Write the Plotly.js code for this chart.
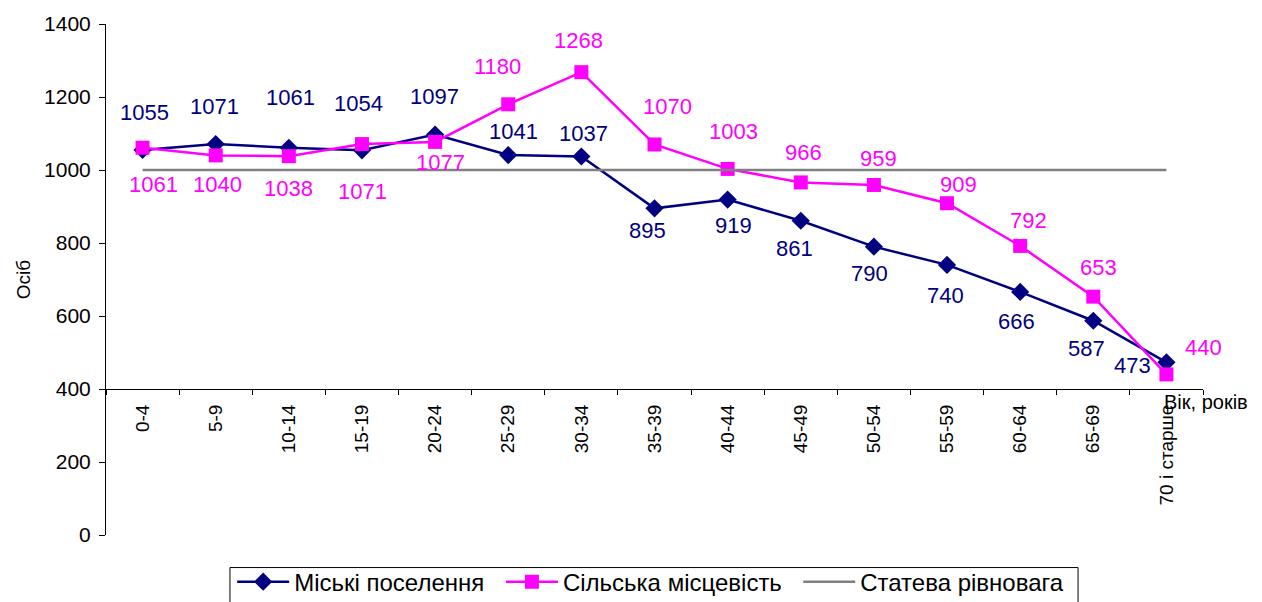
<!DOCTYPE html>
<html>
<head>
<meta charset="utf-8">
<script src="https://cdn.plot.ly/plotly-3.0.1.min.js"></script>
<style>
html,body{margin:0;padding:0;background:#fff;}
#chart{width:1262px;height:602px;}
</style>
</head>
<body>
<div id="chart"></div>
<script>
// ---- data ----
var categories = ["0-4","5-9","10-14","15-19","20-24","25-29","30-34","35-39","40-44","45-49","50-54","55-59","60-64","65-69","70 і старше"];
var urbanValues = [1055,1071,1061,1054,1097,1041,1037,895,919,861,790,740,666,587,473];
var ruralValues = [1061,1040,1038,1071,1077,1180,1268,1070,1003,966,959,909,792,653,440];
var balanceValues = [1000,1000,1000,1000,1000,1000,1000,1000,1000,1000,1000,1000,1000,1000,1000];
var seriesNames = ["Міські поселення","Сільська місцевість","Статева рівновага"];
var yTickValues = [0,200,400,600,800,1000,1200,1400];
var yAxisTitle = "Осіб";
var xAxisTitle = "Вік, років";

// ---- label placement (pixel offsets, style only) ----
var urbanShiftX = [2,-1,2,-3,-1,5,2,-7,6,-6,-4,-2,-4,-7,-34];
var urbanShiftY = [37,38,50,47,38,24,23,-22,-26,-28,-27,-31,-30,-28,-3];
var ruralShiftX = [11,2,0,1,5,-11,-3,13,6,3,5,11,8,5,37];
var ruralShiftY = [-37,-29,-32,-47,-21,38,32,38,37,30,26,19,25,29,27];

var FONT = "Liberation Sans, Arial, sans-serif";
var NAVY = "#000080", MAGENTA = "#FF00FF", GRAY = "#808080";

var traces = [
  {x: categories, y: urbanValues, name: seriesNames[0], type: "scatter", mode: "lines+markers", legend: "legend",
   line: {color: NAVY, width: 2.5}, marker: {symbol: "diamond", size: 14, color: NAVY}, hoverinfo: "skip"},
  {x: categories, y: ruralValues, name: seriesNames[1], type: "scatter", mode: "lines+markers", legend: "legend2",
   line: {color: MAGENTA, width: 2.5}, marker: {symbol: "square", size: 14, color: MAGENTA}, hoverinfo: "skip"},
  {x: categories, y: balanceValues, name: seriesNames[2], type: "scatter", mode: "lines", legend: "legend3",
   line: {color: GRAY, width: 2.5}, hoverinfo: "skip"}
];

var annotations = [];
categories.forEach(function(c, i){
  annotations.push({x: c, y: urbanValues[i], xref: "x", yref: "y", text: String(urbanValues[i]),
    showarrow: false, xshift: urbanShiftX[i], yshift: urbanShiftY[i],
    font: {family: FONT, size: 22, color: NAVY}});
  annotations.push({x: c, y: ruralValues[i], xref: "x", yref: "y", text: String(ruralValues[i]),
    showarrow: false, xshift: ruralShiftX[i], yshift: ruralShiftY[i],
    font: {family: FONT, size: 22, color: MAGENTA}});
});
annotations.push({xref: "paper", yref: "paper", x: 0.9626, y: 0.2596, xanchor: "left", yanchor: "middle",
  text: xAxisTitle, showarrow: false, font: {family: FONT, size: 20, color: "#000"}});
annotations.push({xref: "paper", yref: "paper", x: -0.0757, y: 0.5005, xanchor: "center", yanchor: "middle",
  text: yAxisTitle, textangle: -90, showarrow: false, font: {family: FONT, size: 19, color: "#000"}});

function legendAt(xp) {
  return {orientation: "h", x: xp, y: -0.048, xanchor: "left", yanchor: "top",
    borderwidth: 0, bgcolor: "rgba(0,0,0,0)",
    font: {family: FONT, size: 24, color: "#000"}, itemwidth: 52};
}

var layout = {
  width: 1262, height: 602,
  margin: {l: 106, r: 59, t: 24, b: 67, pad: 0, autoexpand: false},
  paper_bgcolor: "#fff", plot_bgcolor: "rgba(0,0,0,0)",
  font: {family: FONT, size: 20, color: "#000"},
  showlegend: true,
  legend: legendAt(0.1150),
  legend2: legendAt(0.3600),
  legend3: legendAt(0.6310),
  shapes: [{type: "rect", xref: "paper", yref: "paper", x0: 0.1130, x1: 0.8861, y0: -0.0637, y1: -0.2,
    line: {color: "#000", width: 1}, fillcolor: "rgba(0,0,0,0)", layer: "below"}],
  xaxis: {
    type: "category", categoryorder: "array", categoryarray: categories,
    range: [-0.5, 14.5], anchor: "free", position: 400/1400,
    showline: true, linecolor: "#000", linewidth: 1,
    ticks: "outside", tickson: "boundaries", ticklen: 5, tickcolor: "#000",
    tickangle: -90, ticklabelstandoff: 7,
    tickfont: {family: FONT, size: 19, color: "#000"},
    showgrid: false, zeroline: false, fixedrange: true
  },
  yaxis: {
    range: [0, 1400], tickvals: yTickValues, ticktext: yTickValues.map(String),
    showline: true, linecolor: "#000", linewidth: 1,
    ticks: "outside", ticklen: 6, tickcolor: "#000", ticklabelstandoff: 4,
    tickfont: {family: FONT, size: 21, color: "#000"},
    showgrid: false, zeroline: false, fixedrange: true
  },
  annotations: annotations
};

Plotly.newPlot("chart", traces, layout, {staticPlot: true, displayModeBar: false});
</script>
</body>
</html>
